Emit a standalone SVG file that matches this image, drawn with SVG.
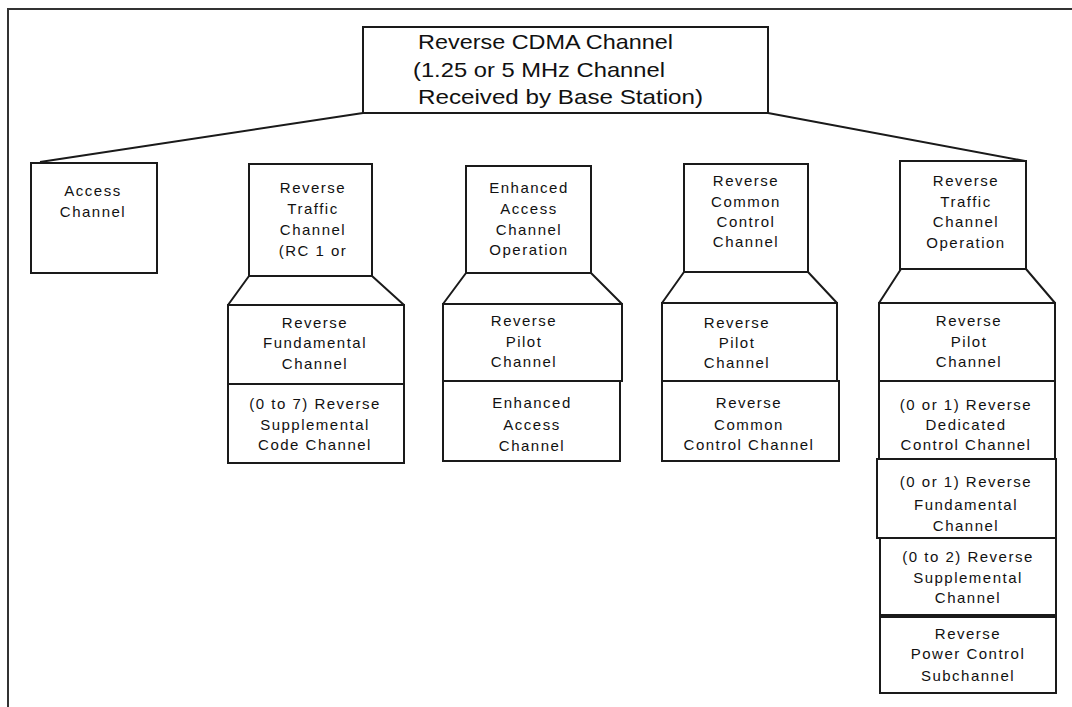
<svg xmlns="http://www.w3.org/2000/svg" width="1072" height="707" viewBox="0 0 1072 707">
  <style>
    .box { fill: #fff; stroke: #1a1a1a; stroke-width: 2; }
    .link { fill: none; stroke: #1a1a1a; stroke-width: 2; }
    .frame { fill: none; stroke: #333; stroke-width: 2; }
    .title { font-family: "Liberation Sans", Arial, sans-serif; font-size: 21px; fill: #111; }
    .lbl { font-family: "Liberation Sans", Arial, sans-serif; font-size: 15px; letter-spacing: 1.5px; fill: #111; text-anchor: middle; }
  </style>
  <rect width="1072" height="707" fill="#fff"/>

  <!-- page frame -->
  <path class="frame" d="M8,707 V9 H1072"/>

  <!-- connectors -->
  <g id="connectors">
    <line class="link" x1="363" y1="113" x2="40" y2="162"/>
    <line class="link" x1="768" y1="113" x2="1025" y2="161"/>
    <!-- fan-out under each channel group -->
    <path class="link" d="M249,276 L228,305 M372,276 L404,305"/>
    <path class="link" d="M466,273 L443,304 M591,273 L622,304"/>
    <path class="link" d="M684,272 L662,303 M808,272 L837,303"/>
    <path class="link" d="M901,269 L879,303 M1026,269 L1055,303"/>
  </g>

  <!-- root -->
  <g id="reverse-cdma-channel">
    <rect class="box" x="363" y="27" width="405" height="86"/>
    <text class="title" x="418" y="49" textLength="255" lengthAdjust="spacingAndGlyphs">Reverse CDMA Channel</text>
    <text class="title" x="413" y="77" textLength="252" lengthAdjust="spacingAndGlyphs">(1.25 or 5 MHz Channel</text>
    <text class="title" x="418" y="104" textLength="285" lengthAdjust="spacingAndGlyphs">Received by Base Station)</text>
  </g>

  <g id="access-channel">
    <rect class="box" x="31" y="163" width="126" height="110"/>
    <text class="lbl" x="93" y="196">Access</text>
    <text class="lbl" x="93" y="217">Channel</text>
  </g>

  <!-- Reverse Traffic Channel (RC 1 or 2) -->
  <g id="rtc-rc12">
    <rect class="box" x="249" y="164" width="123" height="112"/>
    <text class="lbl" x="313" y="193">Reverse</text>
    <text class="lbl" x="313" y="214">Traffic</text>
    <text class="lbl" x="313" y="235">Channel</text>
    <text class="lbl" x="313" y="256">(RC 1 or</text>
  </g>
  <g id="rtc-rc12-fundamental">
    <rect class="box" x="228" y="305" width="176" height="79"/>
    <text class="lbl" x="315" y="328">Reverse</text>
    <text class="lbl" x="315" y="348">Fundamental</text>
    <text class="lbl" x="315" y="369">Channel</text>
  </g>
  <g id="rtc-rc12-supplemental">
    <rect class="box" x="228" y="384" width="176" height="79"/>
    <text class="lbl" x="315" y="409">(0 to 7) Reverse</text>
    <text class="lbl" x="315" y="430">Supplemental</text>
    <text class="lbl" x="315" y="450">Code Channel</text>
  </g>

  <!-- Enhanced Access Channel Operation -->
  <g id="each-operation">
    <rect class="box" x="466" y="166" width="125" height="107"/>
    <text class="lbl" x="529" y="193">Enhanced</text>
    <text class="lbl" x="529" y="214">Access</text>
    <text class="lbl" x="529" y="235">Channel</text>
    <text class="lbl" x="529" y="255">Operation</text>
  </g>
  <g id="each-pilot">
    <rect class="box" x="443" y="304" width="179" height="77"/>
    <text class="lbl" x="524" y="326">Reverse</text>
    <text class="lbl" x="524" y="347">Pilot</text>
    <text class="lbl" x="524" y="367">Channel</text>
  </g>
  <g id="each-channel">
    <rect class="box" x="443" y="381" width="177" height="80"/>
    <text class="lbl" x="532" y="408">Enhanced</text>
    <text class="lbl" x="532" y="430">Access</text>
    <text class="lbl" x="532" y="451">Channel</text>
  </g>

  <!-- Reverse Common Control Channel -->
  <g id="rccch-operation">
    <rect class="box" x="684" y="164" width="124" height="108"/>
    <text class="lbl" x="746" y="186">Reverse</text>
    <text class="lbl" x="746" y="207">Common</text>
    <text class="lbl" x="746" y="227">Control</text>
    <text class="lbl" x="746" y="247">Channel</text>
  </g>
  <g id="rccch-pilot">
    <rect class="box" x="662" y="303" width="175" height="78"/>
    <text class="lbl" x="737" y="328">Reverse</text>
    <text class="lbl" x="737" y="348">Pilot</text>
    <text class="lbl" x="737" y="368">Channel</text>
  </g>
  <g id="rccch-channel">
    <rect class="box" x="662" y="381" width="177" height="80"/>
    <text class="lbl" x="749" y="408">Reverse</text>
    <text class="lbl" x="749" y="430">Common</text>
    <text class="lbl" x="749" y="450">Control Channel</text>
  </g>

  <!-- Reverse Traffic Channel Operation -->
  <g id="rtc-operation">
    <rect class="box" x="900" y="161" width="126" height="108"/>
    <text class="lbl" x="966" y="186">Reverse</text>
    <text class="lbl" x="966" y="207">Traffic</text>
    <text class="lbl" x="966" y="227">Channel</text>
    <text class="lbl" x="966" y="248">Operation</text>
  </g>
  <g id="rtc-pilot">
    <rect class="box" x="879" y="303" width="176" height="78"/>
    <text class="lbl" x="969" y="326">Reverse</text>
    <text class="lbl" x="969" y="347">Pilot</text>
    <text class="lbl" x="969" y="367">Channel</text>
  </g>
  <g id="rtc-dedicated-control">
    <rect class="box" x="879" y="381" width="176" height="78"/>
    <text class="lbl" x="966" y="410">(0 or 1) Reverse</text>
    <text class="lbl" x="966" y="430">Dedicated</text>
    <text class="lbl" x="966" y="450">Control Channel</text>
  </g>
  <g id="rtc-fundamental">
    <rect class="box" x="877" y="459" width="179" height="79"/>
    <text class="lbl" x="966" y="487">(0 or 1) Reverse</text>
    <text class="lbl" x="966" y="510">Fundamental</text>
    <text class="lbl" x="966" y="531">Channel</text>
  </g>
  <g id="rtc-supplemental">
    <rect class="box" x="880" y="538" width="176" height="77"/>
    <text class="lbl" x="968" y="562">(0 to 2) Reverse</text>
    <text class="lbl" x="968" y="583">Supplemental</text>
    <text class="lbl" x="968" y="603">Channel</text>
  </g>
  <g id="rtc-power-control">
    <rect class="box" x="880" y="617" width="176" height="76"/>
    <text class="lbl" x="968" y="639">Reverse</text>
    <text class="lbl" x="968" y="659">Power Control</text>
    <text class="lbl" x="968" y="681">Subchannel</text>
  </g>
</svg>
